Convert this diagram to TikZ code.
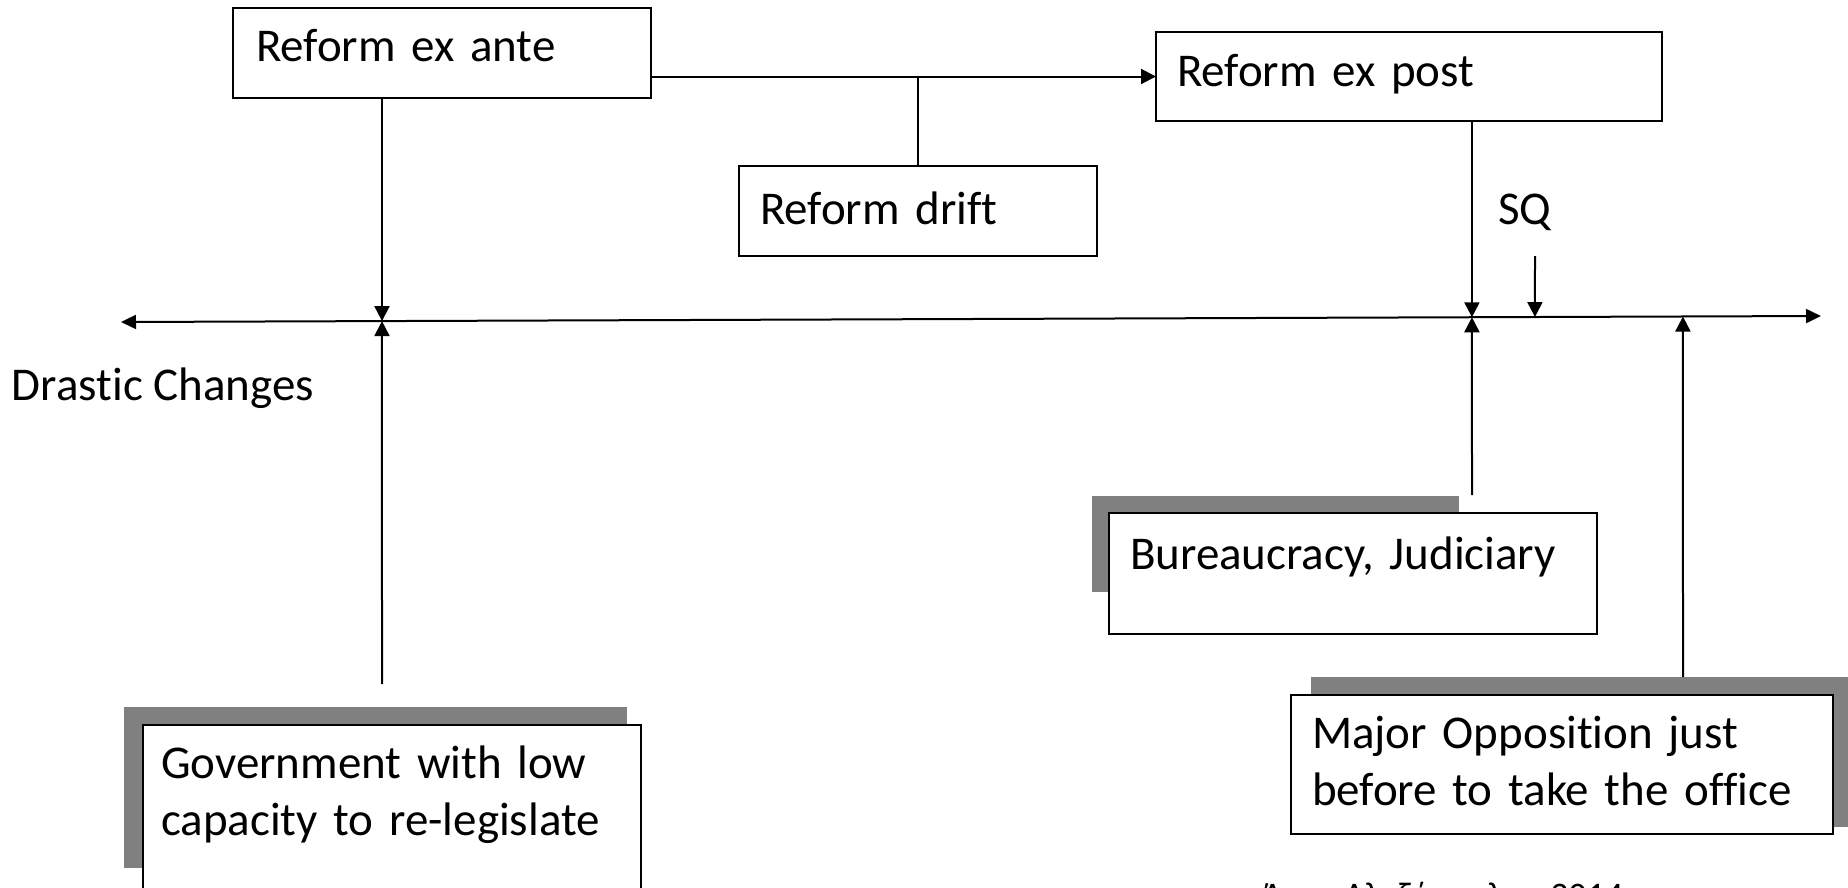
\documentclass[tikz,border=0pt]{standalone}
\usepackage{fontspec}
\setmainfont{Carlito}[Ligatures={NoCommon}]
\usetikzlibrary{arrows.meta}

\tikzset{
  frame/.style={draw, fill=white, line width=2pt, outer sep=0pt, inner ysep=0pt, inner xsep=21pt,
    align=left, anchor=base west, font=\fontsize{47}{57}\selectfont},
  caption/.style={inner sep=0pt, outer sep=0pt, anchor=base west, font=\fontsize{47}{57}\selectfont},
  backing/.style={fill=black!50},
  conn/.style={line width=2pt},
  tip/.style={-{Triangle[length=15pt,width=15pt]}},
}

\begin{document}
\begin{tikzpicture}[x=1pt,y=-1pt]
    \useasboundingbox (0,0) rectangle (1848,887);
    \clip (0,0) rectangle (1848,887);

    \coordinate (axl) at (121,322);
    \coordinate (axr) at (1821,316);

    \fill[backing] (124,707) rectangle (627,868);
    \fill[backing] (1092,496) rectangle (1459,592);
    \fill[backing] (1311,677) rectangle (1860,827);

    \node[frame, inner xsep=23pt, text width=372pt, text height=53pt, text depth=37pt] (ante) at (233,61) {Reform ex ante};
    \node[frame, text width=316pt, text height=58pt, text depth=32pt] (drift) at (739,224) {Reform drift};
    \node[frame, text width=464pt, text height=54pt, text depth=35pt] (post) at (1156,86) {Reform ex post};
    \node[frame, text width=446pt, text height=56pt, text depth=65pt] (bureau) at (1109,569) {Bureaucracy, Judiciary};
    \node[frame, text width=500pt, text height=53pt, text depth=86pt] (major) at (1291,748) {Major Opposition just\\before to take the office};
    \node[frame, inner xsep=18pt, text width=462pt, text height=53pt, text depth=127pt] (gov) at (143,778) {Government with low\\capacity to re-legislate};

    \node[caption] (drastic) at (12,400) {Drastic Changes};
    \node[caption] (sq) at (1498,224) {SQ};
    \node[caption, font=\fontsize{36}{43}\selectfont] (sign) at (1262,907) {Άννα Αλεξόπουλου 2014};

    \coordinate (gx) at (intersection of axl--axr and 382,0--382,887);
    \coordinate (px) at (intersection of axl--axr and 1472,0--1472,887);
    \coordinate (sqx) at (intersection of axl--axr and 1535,0--1535,887);
    \coordinate (mx) at (intersection of axl--axr and 1683,0--1683,887);
    \coordinate (gtail) at (382,684);
    \coordinate (btail) at (1472,495);
    \coordinate (sqtail) at (1535,256);
    \coordinate (mtail) at (1683,677);

    \draw[conn, {Triangle[length=15pt,width=14pt]}-{Triangle[length=15pt,width=14pt]}] (axl) -- (axr);
    \draw[conn, tip] (ante.east |- post.west) -- (post.west);
    \draw[conn] (drift.north) -- (drift.north |- post.west);
    \draw[conn, tip] (gx |- ante.south) -- (gx);
    \draw[conn, tip] (gtail) -- (gx);
    \draw[conn, tip] (px |- post.south) -- (px);
    \draw[conn, tip] (btail) -- (px);
    \draw[conn, tip] (sqtail) -- (sqx);
    \draw[conn, tip] (mtail) -- (mx);
\end{tikzpicture}
\end{document}
